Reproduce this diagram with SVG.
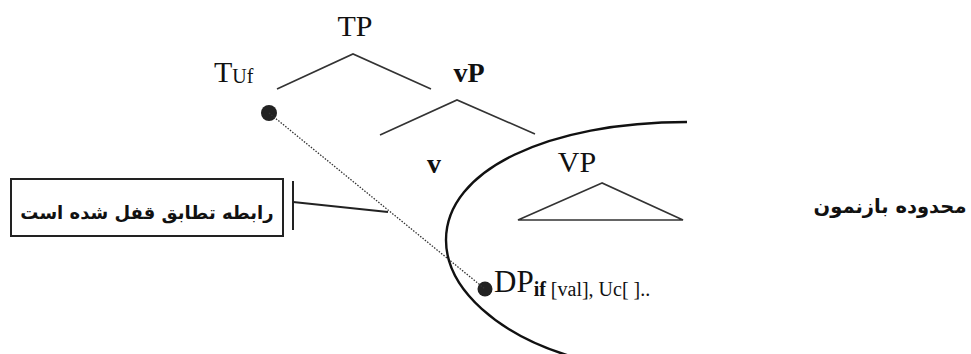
<svg xmlns="http://www.w3.org/2000/svg" width="971" height="354" viewBox="0 0 971 354">
  <style>
    .lat { font-family: "Liberation Serif", "Times New Roman", serif; fill: #111; }
    .fa { font-family: "DejaVu Sans", "Noto Sans", sans-serif; font-weight: bold; fill: #111; direction: rtl; }
    .branch { fill: none; stroke: #333; stroke-width: 1.6; }
    .dot { fill: #222; }
  </style>
  <rect width="971" height="354" fill="#fff"/>

  <!-- tree nodes -->
  <g id="tp">
    <text class="lat" x="355" y="36" font-size="30" text-anchor="middle">TP</text>
  </g>
  <g id="t-uf">
    <text class="lat" x="214" y="82" font-size="30">T<tspan font-size="20" dy="1">Uf</tspan></text>
    <circle class="dot" cx="269" cy="113" r="8"/>
  </g>
  <g id="vp-small">
    <text class="lat" x="469" y="82" font-size="28" font-weight="bold" text-anchor="middle">vP</text>
  </g>
  <g id="v-head">
    <text class="lat" x="434" y="173" font-size="28" font-weight="bold" text-anchor="middle">v</text>
  </g>
  <g id="vp-big">
    <text class="lat" x="577" y="172" font-size="30" text-anchor="middle">VP</text>
    <path class="branch" d="M602,183 L518,220 L683,220 Z"/>
  </g>
  <g id="dp">
    <circle class="dot" cx="485" cy="289" r="7.5"/>
    <text class="lat" x="494" y="292" font-size="31">DP<tspan font-size="20" dy="4"><tspan font-weight="bold">if</tspan> [val], Uc[ ]..</tspan></text>
  </g>
  <g id="agree-label">
    <rect x="11" y="179" width="272" height="57" fill="#fff" stroke="#222" stroke-width="2"/>
    <text class="fa" x="147" y="219" font-size="18" text-anchor="middle">رابطه تطابق قفل شده است</text>
  </g>
  <g id="domain-label">
    <text class="fa" x="890" y="213" font-size="19.5" text-anchor="middle">محدوده بازنمون</text>
  </g>

  <!-- connectors -->
  <g id="connectors">
    <path class="branch" d="M277,89 L353,54 L431,89"/>
    <path class="branch" d="M380,135 L457,100 L535,134"/>
    <line x1="269" y1="113" x2="485" y2="289" stroke="#333" stroke-width="1.3" stroke-dasharray="1.5,1.5"/>
    <path d="M687,122 C548,122 446,170 446,240 C446,290 500,335 570,356" fill="none" stroke="#111" stroke-width="2.4"/>
    <line x1="293" y1="181" x2="293" y2="230" stroke="#222" stroke-width="2"/>
    <line x1="293" y1="202" x2="388" y2="212" stroke="#222" stroke-width="2"/>
  </g>
</svg>
